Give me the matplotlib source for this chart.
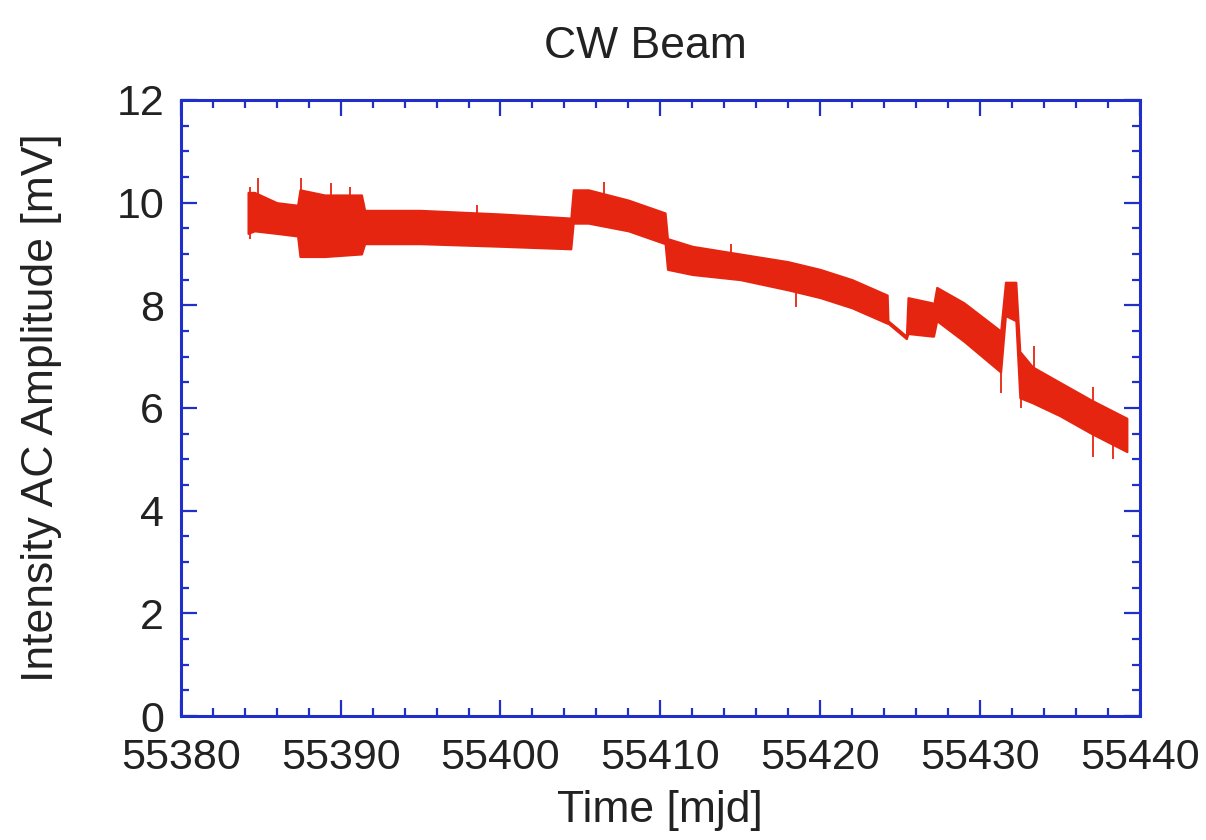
import matplotlib
matplotlib.use('Agg')
import matplotlib.pyplot as plt
from matplotlib.ticker import MultipleLocator

plt.rcParams['font.family'] = ['Liberation Sans', 'DejaVu Sans']

# envelope of the noisy CW beam amplitude trace
mjd = [55384.2, 55384.6, 55386.0, 55387.3, 55387.45, 55389.0, 55391.3, 55391.5,
       55395.0, 55400.0, 55404.4, 55404.55, 55405.5, 55408.0, 55410.3, 55410.45,
       55412.0, 55415.0, 55418.0, 55420.0, 55422.0, 55424.2, 55424.25, 55425.4,
       55425.5, 55427.0, 55427.1, 55427.3, 55429.0, 55431.3, 55431.6, 55432.25,
       55432.5, 55433.3, 55435.0, 55437.0, 55439.2]
upper = [10.2, 10.2, 10.0, 9.95, 10.25, 10.15, 10.15, 9.85,
         9.85, 9.78, 9.7, 10.25, 10.25, 10.05, 9.8, 9.3,
         9.15, 9.0, 8.85, 8.7, 8.5, 8.2, 7.7, 7.4,
         8.15, 8.05, 8.0, 8.35, 8.05, 7.5, 8.45, 8.45,
         7.1, 6.8, 6.5, 6.15, 5.8]
lower = [9.4, 9.45, 9.4, 9.35, 8.95, 8.95, 9.0, 9.2,
         9.2, 9.15, 9.1, 9.6, 9.6, 9.45, 9.2, 8.7,
         8.6, 8.5, 8.3, 8.15, 7.95, 7.65, 7.65, 7.35,
         7.45, 7.4, 7.4, 7.7, 7.3, 6.7, 7.8, 7.7,
         6.2, 6.1, 5.85, 5.5, 5.15]

# isolated spikes sticking out of the band
spike_t = [55384.3, 55384.85, 55387.5, 55389.4, 55390.6, 55398.5, 55406.5, 55414.4,
           55418.5, 55431.3, 55432.6, 55433.4, 55437.1, 55438.3]
spike_lo = [9.3, 10.0, 10.0, 10.0, 10.0, 9.6, 10.0, 8.8,
            7.97, 6.3, 6.0, 6.5, 5.05, 5.0]
spike_hi = [10.3, 10.48, 10.48, 10.38, 10.3, 9.95, 10.4, 9.2,
            8.4, 7.0, 6.3, 7.2, 6.4, 5.5]

red = '#e62510'
blue = '#1f2fc8'
txt = '#222222'

fig = plt.figure(figsize=(12.06, 8.40), dpi=100)
ax = fig.add_axes([0.150, 0.1476, 0.795, 0.7334])

ax.fill_between(mjd, lower, upper, color=red, lw=1.5, edgecolor=red)
ax.vlines(spike_t, spike_lo, spike_hi, color=red, lw=1.3)

ax.set_xlim(55380, 55440)
ax.set_ylim(0, 12)
ax.xaxis.set_major_locator(MultipleLocator(10))
ax.xaxis.set_minor_locator(MultipleLocator(2))
ax.yaxis.set_major_locator(MultipleLocator(2))
ax.yaxis.set_minor_locator(MultipleLocator(0.5))

for s in ax.spines.values():
    s.set_color(blue)
    s.set_linewidth(2.2)
ax.tick_params(which='both', direction='in', top=True, right=True, color=blue, width=1.6,
               labelsize=31, labelcolor=txt)
ax.tick_params(which='major', length=11.5)
ax.tick_params(which='minor', length=6)
ax.tick_params(axis='x', which='major', pad=16)
ax.tick_params(axis='y', which='major', pad=12)

ax.set_xlabel('Time [mjd]', fontsize=32, color=txt)
ax.set_ylabel('Intensity AC Amplitude [mV]', fontsize=32, color=txt)
ax.xaxis.set_label_coords(0.5, -0.12)
ax.yaxis.set_label_coords(-0.124, 0.5)
ax.set_title('CW Beam', fontsize=32, color=txt, pad=30, x=0.484)

fig.savefig('out.png', dpi=100)
